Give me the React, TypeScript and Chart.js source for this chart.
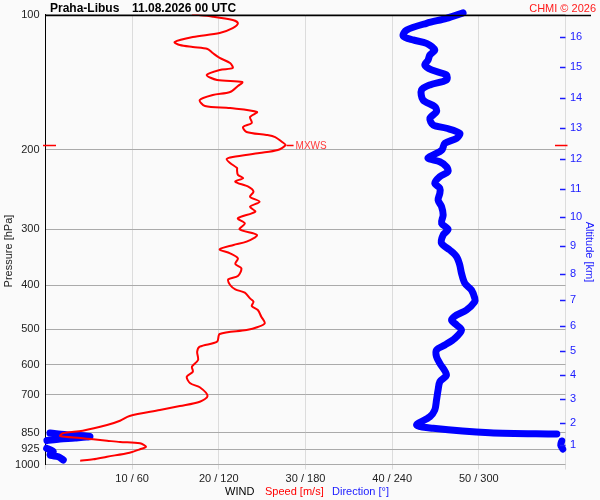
import { useEffect, useRef } from 'react';
import { Chart, registerables } from 'chart.js';

Chart.register(...registerables);

const FONT = '"Liberation Sans", Arial, Helvetica, sans-serif';

// Wind speed profile [m/s] against pressure [hPa]
const speedPressure = [100.0, 101.1, 102.9, 104.6, 107.2, 109.9, 112.2, 115.1, 116.9, 118.1, 119.3, 121.8, 124.9, 128.2, 131.5, 132.8, 136.3, 139.8, 141.3, 144.2, 148.7, 151.0, 154.9, 159.7, 161.4, 164.7, 169.0, 174.2, 177.8, 182.4, 185.2, 187.2, 192.0, 195.0, 200.0, 203.1, 207.3, 209.5, 213.8, 219.3, 221.6, 227.3, 230.9, 235.3, 241.4, 247.6, 254.0, 260.6, 267.4, 274.3, 283.7, 291.1, 300.1, 309.0, 319.8, 325.2, 332.5, 339.4, 348.2, 358.5, 366.5, 381.2, 387.6, 399.1, 408.0, 415.2, 427.3, 434.8, 444.4, 453.6, 469.5, 485.5, 494.8, 502.5, 512.9, 533.5, 547.3, 561.5, 585.9, 606.3, 622.0, 638.1, 660.0, 673.7, 704.4, 725.2, 741.4, 756.7, 780.3, 799.3, 817.1, 841.2, 852.5, 864.4, 873.3, 879.1, 885.4, 891.3, 897.3, 913.0, 925.2, 941.4, 960.9, 973.9, 980.9];
const speedValues = [16.9, 19.3, 21.6, 22.2, 21.6, 20.1, 17.0, 14.9, 15.5, 17.0, 18.7, 19.3, 20.1, 21.3, 21.6, 20.1, 18.6, 19.8, 22.7, 22.2, 21.3, 19.3, 17.8, 18.4, 21.3, 24.4, 23.6, 23.8, 22.8, 23.2, 25.5, 26.5, 27.3, 27.7, 26.8, 24.7, 21.6, 20.9, 21.3, 22.1, 22.1, 22.2, 22.8, 21.9, 23.4, 24.0, 23.6, 24.7, 23.6, 24.2, 22.2, 23.0, 22.4, 24.4, 23.2, 21.7, 20.1, 21.3, 22.2, 21.9, 22.6, 22.2, 21.1, 21.3, 21.9, 23.0, 23.6, 24.0, 23.8, 24.5, 24.9, 25.3, 24.5, 23.2, 20.1, 19.8, 17.8, 17.5, 17.6, 16.9, 17.0, 16.3, 16.7, 17.8, 18.7, 17.8, 15.5, 13.2, 9.7, 8.6, 7.1, 4.3, 2.0, 1.7, 4.0, 5.5, 7.1, 8.6, 10.9, 11.6, 10.9, 9.7, 7.1, 5.5, 4.0];

// Wind direction profile [deg] against pressure [hPa]; null = break (wrap through 360/0)
const dirPressure = [99.2, 102.0, 104.6, 108.3, 111.6, 113.9, 115.9, 119.9, 123.0, 126.2, 129.5, 132.8, 136.3, 139.8, 143.4, 147.2, 154.9, 160.3, 164.4, 170.1, 176.0, 179.0, 183.7, 188.4, 193.3, 200.0, 205.2, 208.7, 212.4, 217.9, 223.5, 229.3, 237.2, 243.3, 249.6, 258.4, 267.4, 279.0, 291.1, 300.1, 309.0, 322.4, 333.7, 345.3, 360.3, 375.9, 395.7, 409.5, 427.3, 434.8, 453.6, 465.4, 477.5, 489.8, 502.5, 524.3, 542.6, 556.6, 576.1, 595.9, 632.6, 654.6, 683.0, 718.8, 756.7, 783.1, 817.1, 831.0, 849.9, 855.6, null, 851.2, 859.9, 866.6, 873.3, 877.7, 884.5, null, 886.7, 905.1, 923.9, null, 920.3, 936.6, 952.6, 960.9, 977.3];
const dirValues = [289.1, 277.6, 263.8, 250.0, 247.6, 254.5, 263.8, 269.5, 266.1, 264.9, 262.6, 267.3, 277.6, 277.6, 266.1, 260.3, 261.4, 269.5, 270.7, 266.1, 268.4, 277.6, 286.8, 284.6, 276.5, 274.4, 268.4, 264.9, 273.0, 277.6, 278.7, 273.0, 269.5, 273.0, 273.0, 271.8, 274.2, 275.3, 274.2, 278.7, 275.3, 274.2, 279.9, 284.6, 286.8, 288.0, 290.3, 294.9, 297.2, 297.2, 291.5, 284.6, 281.1, 284.6, 288.0, 283.4, 276.5, 270.7, 270.7, 273.0, 277.6, 273.0, 271.8, 270.7, 269.5, 266.1, 256.9, 268.4, 307.6, 354.0, null, 3.1, 17.0, 30.8, 20.4, 10.0, 1.0, null, 357.4, 356.7, 358.1, null, 0.8, 5.4, 3.1, 8.9, 12.3];

// Axis ticks
const pressureTicks = [100, 200, 300, 400, 500, 600, 700, 850, 925, 1000];
const speedTicks = [10, 20, 30, 40, 50];
const altPressure = [905.1, 808.8, 715.2, 632.6, 559.5, 492.3, 430.9, 376.7, 327.4, 281.8, 244.2, 209.1, 178.7, 153.3, 130.8, 112.2];
const altLabels = ['1', '2', '3', '4', '5', '6', '7', '8', '9', '10', '11', '12', '13', '14', '15', '16'];

const stationTitle = 'Praha-Libus';
const timeTitle = '11.08.2026 00 UTC';
const copyright = 'CHMI © 2026';

export default function App() {
  const ref = useRef<HTMLCanvasElement>(null);

  useEffect(() => {
    const canvas = ref.current;
    if (!canvas) return;

    const overlay = {
      id: 'overlay',
      beforeDraw(chart: any) {
        const ctx = chart.ctx;
        ctx.save();
        ctx.fillStyle = '#fafafa';
        ctx.fillRect(0, 0, chart.width, chart.height);
        ctx.restore();
      },
      afterDraw(chart: any) {
        const { ctx, chartArea } = chart;
        const xs = chart.scales.x;
        const ys = chart.scales.y;
        const ya = chart.scales.yAlt;
        ctx.save();

        // top frame line
        const yTop = Math.round(ys.getPixelForValue(100)) + 0.5;
        ctx.strokeStyle = '#000';
        ctx.lineWidth = 1.3;
        ctx.beginPath();
        ctx.moveTo(chartArea.left, yTop);
        ctx.lineTo(chart.width - 9, yTop);
        ctx.stroke();

        // altitude tick marks (inside)
        ctx.strokeStyle = '#1a1aff';
        ctx.lineWidth = 1.5;
        ya.ticks.forEach((t: any) => {
          const y = Math.round(ya.getPixelForValue(t.value)) + 0.5;
          ctx.beginPath();
          ctx.moveTo(chartArea.right - 5.5, y);
          ctx.lineTo(chartArea.right, y);
          ctx.stroke();
        });

        // max wind marker
        let idx = 0;
        speedValues.forEach((v, i) => { if (v > speedValues[idx]) idx = i; });
        const mx = xs.getPixelForValue(speedValues[idx]);
        const my = Math.round(ys.getPixelForValue(speedPressure[idx])) + 0.5;
        ctx.strokeStyle = '#ff0000';
        ctx.lineWidth = 1.3;
        ctx.beginPath();
        ctx.moveTo(chartArea.left - 2.5, my); ctx.lineTo(chartArea.left + 10.5, my);
        ctx.moveTo(chartArea.right - 10.5, my); ctx.lineTo(chartArea.right + 2, my);
        ctx.moveTo(mx + 1, my); ctx.lineTo(mx + 8, my);
        ctx.stroke();
        ctx.fillStyle = '#ff3a3a';
        ctx.font = `10px ${FONT}`;
        ctx.textBaseline = 'middle';
        ctx.textAlign = 'left';
        ctx.fillText('MXWS', mx + 10, my + 1);

        // header
        ctx.textBaseline = 'alphabetic';
        ctx.fillStyle = '#000';
        ctx.font = `bold 12px ${FONT}`;
        ctx.fillText(stationTitle, 50, 12);
        ctx.fillText(timeTitle, 132, 12);
        ctx.fillStyle = '#ff1a1a';
        ctx.font = `11px ${FONT}`;
        ctx.textAlign = 'right';
        ctx.fillText(copyright, 596, 12);

        // bottom legend
        ctx.textAlign = 'left';
        ctx.font = `11px ${FONT}`;
        ctx.fillStyle = '#000';
        ctx.fillText('WIND', 225, 495);
        ctx.fillStyle = '#ff0000';
        ctx.fillText('Speed [m/s]', 265, 495);
        ctx.fillStyle = '#1a1aff';
        ctx.fillText('Direction [°]', 332, 495);

        // axis titles
        ctx.textAlign = 'center';
        ctx.textBaseline = 'middle';
        ctx.save();
        ctx.translate(8.5, 251);
        ctx.rotate(-Math.PI / 2);
        ctx.fillStyle = '#222';
        ctx.fillText('Pressure [hPa]', 0, 0);
        ctx.restore();
        ctx.save();
        ctx.translate(589.5, 252);
        ctx.rotate(Math.PI / 2);
        ctx.fillStyle = '#1a1aff';
        ctx.fillText('Altitude [km]', 0, 0);
        ctx.restore();

        ctx.restore();
      },
    };

    const chart = new Chart(canvas, {
      type: 'scatter',
      data: {
        datasets: [
          {
            label: 'Speed [m/s]',
            data: speedPressure.map((p, i) => ({ x: speedValues[i], y: p })),
            xAxisID: 'x',
            yAxisID: 'y',
            showLine: true,
            borderColor: '#ff0000',
            backgroundColor: '#ff0000',
            borderWidth: 2,
            tension: 0.3,
            pointRadius: 0,
            order: 0,
          },
          {
            label: 'Direction [°]',
            data: dirPressure.map((p, i) => ({ x: dirValues[i], y: p })),
            xAxisID: 'xDir',
            yAxisID: 'y',
            showLine: true,
            spanGaps: false,
            borderColor: '#0000ff',
            backgroundColor: '#0000ff',
            borderWidth: 7,
            tension: 0.3,
            borderCapStyle: 'round',
            borderJoinStyle: 'round',
            pointRadius: 0,
            clip: false,
            order: 1,
          },
        ],
      } as any,
      options: {
        responsive: false,
        animation: false,
        events: [],
        layout: { padding: { top: 14.5, left: 0, right: 0, bottom: 0 } },
        plugins: {
          legend: { display: false },
          tooltip: { enabled: false },
        },
        scales: {
          x: {
            type: 'linear',
            position: 'bottom',
            min: 0,
            max: 60,
            afterBuildTicks: (s: any) => {
              s.ticks = [0, ...speedTicks, 60].map((v) => ({ value: v }));
            },
            afterFit: (s: any) => { s.height = 35.5; },
            ticks: {
              autoSkip: false,
              maxRotation: 0,
              padding: 2.5,
              color: '#222',
              font: { family: FONT, size: 11 },
              callback: (v: any) => (speedTicks.includes(v) ? `${v} / ${v * 6}` : ''),
            },
            grid: { color: '#dcdcdc', tickLength: 5, drawTicks: true },
            border: { display: false },
          },
          xDir: {
            type: 'linear',
            display: false,
            min: 0,
            max: 360,
          },
          y: {
            type: 'logarithmic',
            position: 'left',
            reverse: true,
            min: 100,
            max: 1000,
            afterBuildTicks: (s: any) => {
              s.ticks = pressureTicks.map((v) => ({ value: v }));
            },
            afterFit: (s: any) => { s.width = 45.5; },
            ticks: {
              autoSkip: false,
              padding: 6,
              color: '#222',
              font: { family: FONT, size: 11 },
              callback: (v: any) => String(v),
            },
            grid: { color: '#aaaaaa', drawTicks: false },
            border: { display: true, color: '#000', width: 1 },
          },
          yAlt: {
            type: 'logarithmic',
            position: 'right',
            reverse: true,
            min: 100,
            max: 1000,
            afterBuildTicks: (s: any) => {
              s.ticks = altPressure.map((v) => ({ value: v }));
            },
            afterFit: (s: any) => { s.width = 34.5; },
            ticks: {
              autoSkip: false,
              padding: 4.5,
              color: '#1a1aff',
              font: { family: FONT, size: 11 },
              callback: (_v: any, i: number) => altLabels[i],
            },
            grid: { display: false, drawTicks: false },
            border: { display: false },
          },
        },
      } as any,
      plugins: [overlay],
    });

    return () => chart.destroy();
  }, []);

  return (
    <div style={{ position: 'fixed', left: 0, top: 0, width: 600, height: 500, background: '#fafafa' }}>
      <canvas ref={ref} width={600} height={500} style={{ display: 'block' }} />
    </div>
  );
}
